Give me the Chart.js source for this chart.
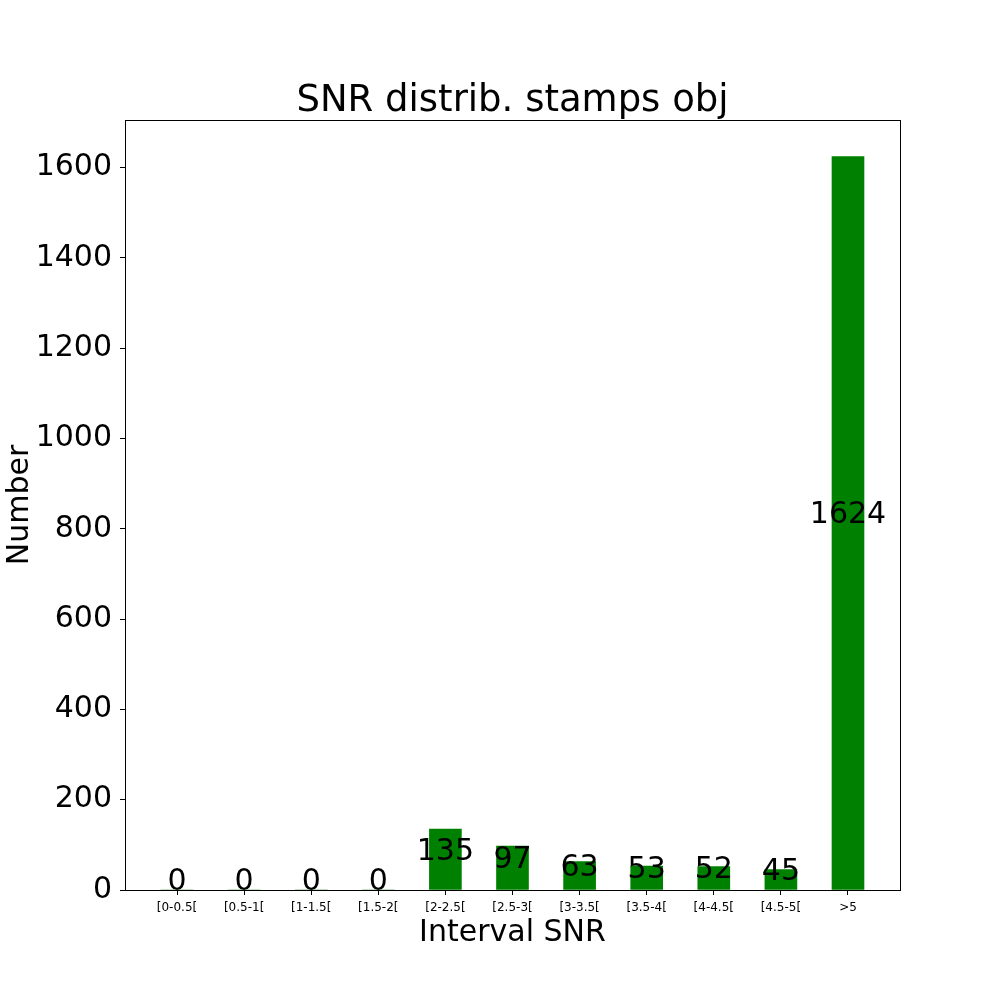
<!DOCTYPE html>
<html>
<head>
<meta charset="utf-8">
<script src="https://cdn.jsdelivr.net/npm/chart.js@4.4.0/dist/chart.umd.min.js"></script>
<style>
  body { margin: 0; background: #fff; }
</style>
</head>
<body>
<canvas id="myChart" width="1000" height="1000"></canvas>
<script>
const categories = ['[0-0.5[', '[0.5-1[', '[1-1.5[', '[1.5-2[', '[2-2.5[', '[2.5-3[', '[3-3.5[', '[3.5-4[', '[4-4.5[', '[4.5-5[', '>5']
const counts = [0, 0, 0, 0, 135, 97, 63, 53, 52, 45, 1624]
const yTicks = [0, 200, 400, 600, 800, 1000, 1200, 1400, 1600]

Chart.defaults.font.family = 'DejaVu Sans'
Chart.defaults.color = '#000'

// matplotlib style box round the plot area
const frame = {
  id: 'frame',
  afterDraw: (chart) => {
    const {ctx, chartArea: a} = chart
    ctx.save()
    ctx.strokeStyle = '#000'
    ctx.lineWidth = 1
    ctx.strokeRect(a.left + 0.5, a.top + 0.5, a.right - a.left, a.bottom - a.top)
    ctx.restore()
  }
}

// value written at half the bar height, baseline on it
const valueLabels = {
  id: 'valueLabels',
  afterDatasetsDraw: (chart) => {
    const ctx = chart.ctx
    const xs = chart.scales.x
    const ys = chart.scales.y
    ctx.save()
    ctx.font = '30px "DejaVu Sans"'
    ctx.fillStyle = '#000'
    ctx.textAlign = 'center'
    ctx.textBaseline = 'alphabetic'
    counts.forEach((v, i) => {
      ctx.fillText(String(v), xs.getPixelForValue(i), ys.getPixelForValue(v / 2))
    })
    ctx.restore()
  }
}

let ctx = document.getElementById('myChart').getContext('2d')
let chart = new Chart(ctx, {
  type: 'bar',
  data: {
    datasets: [{
      data: counts.map((v, i) => ({x: i, y: v})),
      backgroundColor: '#008000',
      borderWidth: 0,
      barThickness: 32,
    }]
  },
  options: {
    responsive: false,
    animation: false,
    layout: { padding: { left: 0, right: 100, top: 0, bottom: 0 } },
    plugins: {
      legend: { display: false },
      tooltip: { enabled: false },
      title: {
        display: true,
        fullSize: false,
        text: 'SNR distrib. stamps obj',
        color: '#000',
        font: { size: 37, weight: 'normal', lineHeight: 1 },
        padding: { top: 83, bottom: 0 },
      },
    },
    scales: {
      x: {
        type: 'linear',
        offset: false,
        min: -0.775,
        max: 10.775,
        afterBuildTicks: s => { s.ticks = categories.map((c, i) => ({value: i})) },
        afterFit: s => { s.height = 110 },
        grid: { offset: false, drawOnChartArea: false, tickLength: 5, tickColor: '#000' },
        border: { display: false },
        ticks: {
          callback: v => categories[v],
          font: { size: 12 },
          padding: 6,
          maxRotation: 0,
          autoSkip: false,
        },
        title: {
          display: true,
          text: 'Interval SNR',
          font: { size: 30 },
          padding: { top: 0, bottom: 49 },
        },
      },
      y: {
        min: 0,
        max: 1705,
        afterBuildTicks: s => { s.ticks = yTicks.map(v => ({value: v})) },
        afterFit: s => { s.width = 125 },
        grid: { drawOnChartArea: false, tickLength: 5, tickColor: '#000' },
        border: { display: false },
        ticks: { font: { size: 30 }, padding: 8, callback: v => String(v) },
        title: {
          display: true,
          text: 'Number',
          font: { size: 30 },
          padding: { top: 2, bottom: 0 },
        },
      },
    },
  },
  plugins: [frame, valueLabels],
})
</script>
</body>
</html>
